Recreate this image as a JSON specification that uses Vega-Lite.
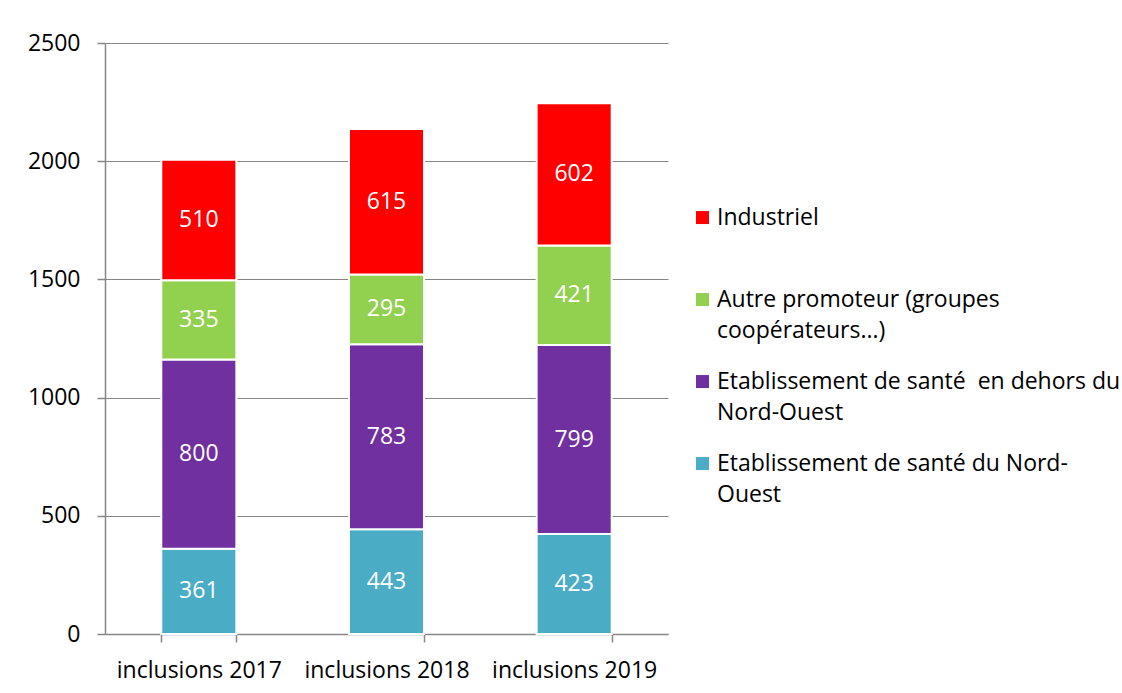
{
  "$schema": "https://vega.github.io/schema/vega-lite/v6.json",
  "width": 563,
  "height": 591,
  "autosize": {"type": "none"},
  "padding": {"left": 105, "top": 43, "right": 454, "bottom": 59},
  "background": "white",
  "config": {
    "font": "Open Sans",
    "view": {"stroke": null},
    "style": {"guide-label": {"lineHeight": 31.6}},
    "axis": {"labelFont": "Open Sans", "labelFontSize": 23, "labelColor": "#000000", "domainColor": "#868686", "tickColor": "#868686", "gridColor": "#868686", "domainWidth": 1.5, "tickWidth": 1.5, "gridWidth": 1.2, "tickSize": 8, "title": null},
    "legend": {"labelFont": "Open Sans", "labelFontSize": 23, "labelColor": "#000000"}
  },
  "data": {
    "values": [
      {"annee": "inclusions 2017", "categorie": "Etablissement de santé du Nord-Ouest", "rang": 1, "valeur": 361},
      {"annee": "inclusions 2017", "categorie": "Etablissement de santé  en dehors du Nord-Ouest", "rang": 2, "valeur": 800},
      {"annee": "inclusions 2017", "categorie": "Autre promoteur (groupes coopérateurs...)", "rang": 3, "valeur": 335},
      {"annee": "inclusions 2017", "categorie": "Industriel", "rang": 4, "valeur": 510},
      {"annee": "inclusions 2018", "categorie": "Etablissement de santé du Nord-Ouest", "rang": 1, "valeur": 443},
      {"annee": "inclusions 2018", "categorie": "Etablissement de santé  en dehors du Nord-Ouest", "rang": 2, "valeur": 783},
      {"annee": "inclusions 2018", "categorie": "Autre promoteur (groupes coopérateurs...)", "rang": 3, "valeur": 295},
      {"annee": "inclusions 2018", "categorie": "Industriel", "rang": 4, "valeur": 615},
      {"annee": "inclusions 2019", "categorie": "Etablissement de santé du Nord-Ouest", "rang": 1, "valeur": 423},
      {"annee": "inclusions 2019", "categorie": "Etablissement de santé  en dehors du Nord-Ouest", "rang": 2, "valeur": 799},
      {"annee": "inclusions 2019", "categorie": "Autre promoteur (groupes coopérateurs...)", "rang": 3, "valeur": 421},
      {"annee": "inclusions 2019", "categorie": "Industriel", "rang": 4, "valeur": 602}
    ]
  },
  "encoding": {
    "x": {
      "field": "annee", "type": "nominal",
      "scale": {"paddingInner": 0.6, "paddingOuter": 0.3},
      "axis": {"labelAngle": 0, "tickBand": "extent", "labelPadding": 17, "grid": false}
    },
    "y": {
      "field": "valeur", "type": "quantitative", "stack": "zero",
      "scale": {"domain": [0, 2500], "nice": false},
      "axis": {"values": [0, 500, 1000, 1500, 2000, 2500], "format": "d", "labelPadding": 17, "grid": true}
    },
    "order": {"field": "rang", "type": "quantitative"}
  },
  "layer": [
    {
      "mark": {"type": "bar", "stroke": "white", "strokeWidth": 2},
      "encoding": {
        "color": {
          "field": "categorie", "type": "nominal",
          "scale": {
            "domain": ["Industriel", "Autre promoteur (groupes coopérateurs...)", "Etablissement de santé  en dehors du Nord-Ouest", "Etablissement de santé du Nord-Ouest"],
            "range": ["#FF0000", "#92D050", "#7030A0", "#4BACC6"]
          },
          "legend": {
            "title": null,
            "orient": "none",
            "legendX": 586,
            "legendY": 152,
            "symbolType": "M-1,0.7H1V2.7H-1Z",
            "symbolSize": 169,
            "symbolStrokeWidth": 0,
            "symbolOffset": 0,
            "labelOffset": 3,
            "labelBaseline": "top",
            "labelLimit": 500,
            "gridAlign": "all",
            "rowPadding": 15,
            "labelExpr": "datum.label == 'Autre promoteur (groupes coopérateurs...)' ? ['Autre promoteur (groupes', 'coopérateurs...)'] : datum.label == 'Etablissement de santé  en dehors du Nord-Ouest' ? ['Etablissement de santé\u00a0 en dehors du', 'Nord-Ouest'] : datum.label == 'Etablissement de santé du Nord-Ouest' ? ['Etablissement de santé du Nord-', 'Ouest'] : datum.label"
          }
        }
      }
    },
    {
      "mark": {"type": "text", "color": "white", "fontSize": 23, "font": "Open Sans", "baseline": "middle"},
      "encoding": {
        "y": {"field": "valeur", "type": "quantitative", "stack": "zero", "bandPosition": 0.5},
        "text": {"field": "valeur", "type": "quantitative"}
      }
    }
  ]
}
